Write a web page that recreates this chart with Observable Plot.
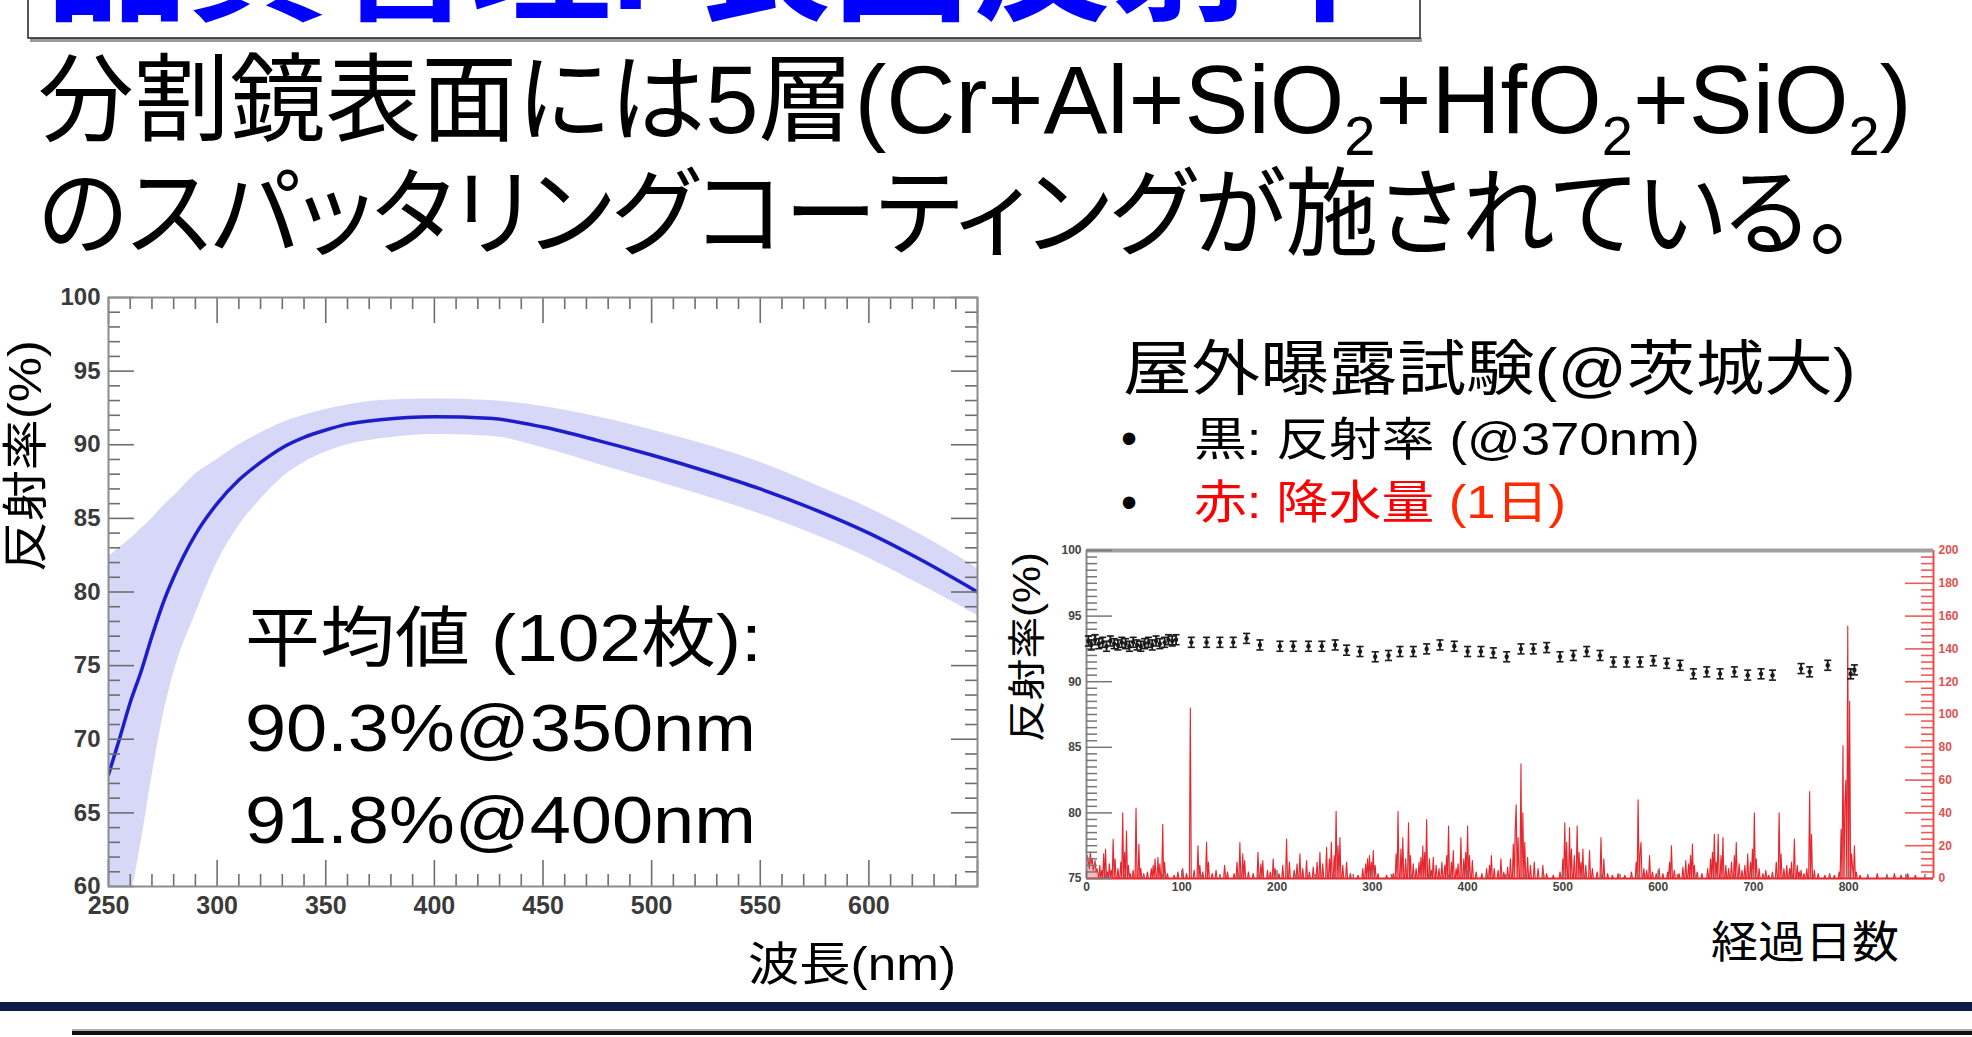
<!DOCTYPE html>
<html><head><meta charset="utf-8">
<script src="https://cdn.jsdelivr.net/npm/d3@7"></script>
<script src="https://cdn.jsdelivr.net/npm/@observablehq/plot@0.6"></script>
<style>
html,body{margin:0;padding:0;background:#fff;overflow:hidden;}
#page{position:relative;width:1972px;height:1037px;overflow:hidden;background:#fff;}
.abs{position:absolute;}
#overlay{position:absolute;left:0;top:0;}
</style></head><body>
<div id="page">
  <div id="left" class="abs" style="left:0;top:270px;width:1000px;height:680px"></div>
  <div id="rain" class="abs" style="left:1040px;top:530px;width:932px;height:390px"></div>
  <div id="refl" class="abs" style="left:1040px;top:530px;width:932px;height:390px"></div>
  <svg id="overlay" width="1972" height="1037"></svg>
</div>
<script>
// ---------- data: left chart (mean reflectance of 102 mirrors) ----------
const wavelength = [250,255,260,265,270,275,280,290,300,310,320,330,340,350,360,375,400,425,450,475,500,525,550,575,600,625,650];
const meanRefl   = [67.6,70.0,72.5,74.6,77.0,79.2,81.0,83.9,86.0,87.6,88.8,89.8,90.5,91.0,91.4,91.7,91.9,91.8,91.2,90.3,89.3,88.2,87.0,85.6,84.0,82.1,80.0];
const bandHigh   = [82.4,83.0,83.6,84.3,85.0,85.8,86.5,88.0,89.0,90.0,90.8,91.5,92.0,92.4,92.7,93.0,93.1,93.0,92.6,91.9,91.0,90.0,88.8,87.3,85.7,83.8,81.6];
const bandLow    = [52.0,55.0,59.0,63.0,67.5,71.5,74.5,78.5,82.0,84.5,86.3,87.8,88.8,89.5,90.0,90.4,90.7,90.6,89.8,88.7,87.6,86.5,85.3,83.9,82.3,80.4,78.4];
const leftXDomain = [250, 650];
const leftYDomain = [60, 100];
const leftXLabels = [250,300,350,400,450,500,550,600];
const leftYLabels = [60,65,70,75,80,85,90,95,100];

// ---------- data: right chart (outdoor exposure) ----------
const reflectance = [[2,93.1],[5,92.8],[9,93.2],[13,92.9],[17,93.0],[21,92.7],[25,93.1],[29,92.9],[33,92.8],[37,93.0],[41,92.9],[45,92.7],[49,93.0],[53,92.8],[57,92.7],[61,92.9],[65,93.0],[69,92.8],[73,93.1],[77,92.9],[82,93.0],[86,93.2],[90,93.1],[94,93.2],[110,93.0],[126,93.0],[140,93.0],[154,93.0],[168,93.3],[182,92.8],[203,92.7],[217,92.7],[233,92.7],[247,92.7],[261,92.8],[273,92.4],[287,92.3],[303,91.9],[317,92.0],[329,92.3],[343,92.3],[357,92.5],[371,92.8],[386,92.7],[400,92.3],[414,92.3],[427,92.2],[441,91.9],[456,92.5],[469,92.5],[483,92.6],[497,91.9],[511,92.0],[525,92.3],[539,92.0],[553,91.5],[567,91.5],[581,91.5],[595,91.6],[609,91.4],[623,91.25],[637,90.6],[651,90.75],[665,90.6],[680,90.75],[694,90.5],[708,90.6],[720,90.5],[750,91.0],[759,90.75],[778,91.25],[802,90.6],[806,90.9]];
const reflErr = 0.38;
const rainfall = [[0,8],[1,14],[2,10],[3,6],[4,16],[5,9],[6,12],[7,5],[8,7],[9,11],[10,4],[11,6],[12,3],[14,8],[16,5],[18,15],[20,18],[22,4],[24,9],[26,5],[28,24],[30,12],[33,6],[36,10],[38,40],[40,16],[42,29],[44,8],[46,3],[49,5],[52,43],[55,21],[57,6],[60,3],[64,4],[68,6],[70,8],[72,12],[75,13],[77,9],[80,33],[82,10],[85,3],[92,2],[96,4],[101,6],[105,3],[109,104],[113,5],[117,20],[119,8],[122,4],[126,22],[128,10],[132,3],[136,5],[140,2],[145,8],[148,4],[155,3],[158,10],[161,22],[164,15],[166,11],[170,4],[175,3],[180,16],[183,9],[185,11],[190,5],[193,4],[196,12],[198,6],[202,3],[206,8],[210,24],[213,10],[218,5],[221,9],[224,15],[227,6],[231,11],[234,4],[238,7],[242,10],[245,16],[248,9],[252,19],[255,12],[257,22],[260,14],[262,41],[264,20],[266,25],[269,8],[273,10],[277,3],[285,2],[290,6],[293,9],[295,12],[297,14],[299,10],[301,17],[303,8],[306,3],[315,2],[322,3],[325,15],[327,41],[330,18],[332,25],[335,12],[338,34],[340,14],[343,9],[346,6],[349,10],[351,13],[353,20],[355,16],[357,36],[360,12],[362,5],[364,13],[367,8],[370,6],[373,10],[376,8],[378,14],[380,32],[383,10],[385,17],[388,6],[390,9],[393,25],[396,12],[398,16],[400,32],[402,14],[405,11],[409,4],[415,3],[420,6],[423,8],[425,14],[428,6],[432,5],[435,12],[438,4],[442,7],[445,12],[448,21],[450,30],[451,45],[453,25],[456,70],[458,40],[460,22],[463,13],[466,8],[470,10],[474,6],[479,8],[483,3],[490,2],[497,4],[500,12],[502,34],[504,22],[507,31],[509,18],[512,14],[515,32],[517,16],[519,10],[521,18],[524,8],[528,17],[531,6],[536,4],[540,25],[543,12],[547,3],[552,2],[558,3],[565,2],[572,4],[577,10],[579,48],[581,15],[582,22],[585,6],[588,5],[591,14],[594,4],[598,3],[601,6],[605,3],[610,4],[612,10],[614,20],[617,5],[622,3],[626,7],[629,11],[632,9],[634,14],[636,21],[638,8],[641,4],[646,3],[652,6],[655,12],[657,16],[659,27],[661,10],[663,27],[666,14],[668,25],[671,8],[674,6],[677,10],[680,14],[682,22],[685,9],[688,5],[691,8],[694,15],[697,10],[699,18],[701,40],[703,12],[706,6],[710,3],[713,5],[716,2],[720,4],[724,10],[727,40],[729,15],[732,6],[735,8],[738,6],[740,10],[743,24],[746,8],[748,4],[750,5],[753,3],[756,6],[759,53],[761,27],[764,5],[768,3],[775,2],[780,3],[785,2],[790,4],[792,30],[794,81],[796,45],[797,60],[799,154],[801,108],[803,15],[804,7],[806,20],[808,4],[812,2],[820,2],[830,3],[840,2],[848,3],[855,2],[862,3],[870,2]];
const rightXDomain = [0, 889];
const reflDomain = [75, 100];
const rainDomain = [0, 200];
const rightXLabels = [0,100,200,300,400,500,600,700,800];
const reflLabels = [75,80,85,90,95,100];
const rainLabels = [0,20,40,60,80,100,120,140,160,180,200];

// ---------- left chart ----------
const spec = wavelength.map((w, i) => ({wl: w, mean: meanRefl[i], low: bandLow[i], high: bandHigh[i]}));
const L = {w: 1000, h: 680, ml: 108, mr: 23, mt: 27, mb: 64};
const lfw = L.w - L.ml - L.mr, lfh = L.h - L.mt - L.mb;
const lxMajor = d3.range(leftXDomain[0], leftXDomain[1] + 1, 50);
const lxMinor = d3.range(leftXDomain[0], leftXDomain[1] + 1, 10).filter(v => v % 50);
const lyMajor = d3.range(leftYDomain[0], leftYDomain[1] + 1, 5);
const lyMinor = d3.range(leftYDomain[0], leftYDomain[1] + 1, 1).filter(v => v % 5);
const tickStyle = {stroke: "#6e6e6e", strokeWidth: 1.6};
const axisFont = "Liberation Sans, Arial, sans-serif";

const leftPlot = Plot.plot({
  width: L.w, height: L.h,
  marginLeft: L.ml, marginRight: L.mr, marginTop: L.mt, marginBottom: L.mb,
  x: {domain: leftXDomain},
  y: {domain: leftYDomain},
  style: {background: "transparent", maxWidth: "none", overflow: "visible", fontFamily: axisFont},
  marks: [
    Plot.areaY(spec, {x: "wl", y1: "low", y2: "high", fill: "#cdcdf6", fillOpacity: 0.8, curve: "monotone-x", clip: true}),
    Plot.lineY(spec, {x: "wl", y: "mean", stroke: "#1d1dc9", strokeWidth: 3.5, curve: "monotone-x", clip: true}),
    Plot.tickY(lyMajor, {y: d => d, insetRight: lfw - 26, ...tickStyle}),
    Plot.tickY(lyMinor, {y: d => d, insetRight: lfw - 12, ...tickStyle}),
    Plot.tickY(lyMajor, {y: d => d, insetLeft: lfw - 26, ...tickStyle}),
    Plot.tickY(lyMinor, {y: d => d, insetLeft: lfw - 12, ...tickStyle}),
    Plot.tickX(lxMajor, {x: d => d, insetTop: lfh - 26, ...tickStyle}),
    Plot.tickX(lxMinor, {x: d => d, insetTop: lfh - 12, ...tickStyle}),
    Plot.tickX(lxMajor, {x: d => d, insetBottom: lfh - 26, ...tickStyle}),
    Plot.tickX(lxMinor, {x: d => d, insetBottom: lfh - 12, ...tickStyle}),
    Plot.frame({stroke: "#8c8c8c", strokeWidth: 2}),
    Plot.axisY({ticks: leftYLabels, tickSize: 0, tickPadding: 8, label: null, fontSize: 24, fontWeight: "bold", fill: "#3a3a3a"}),
    Plot.axisX({ticks: leftXLabels, tickSize: 0, tickPadding: 10, label: null, fontSize: 25, fontWeight: "bold", fill: "#3a3a3a"})
  ]
});
document.getElementById("left").appendChild(leftPlot);

// ---------- right chart: rain layer (own scale, right axis) ----------
const R = {w: 932, h: 390, ml: 46, mr: 39, mt: 20, mb: 42};
const rfw = R.w - R.ml - R.mr, rfh = R.h - R.mt - R.mb;
const rainMap = new Map(rainfall);
const daily = d3.range(0, 881).map(d => ({day: d, mm: rainMap.get(d) ?? 0}));
const rainMajor = rainLabels;
const rainMinor = d3.range(rainDomain[0], rainDomain[1] + 1, 4).filter(v => v % 20);
const redTick = {stroke: "#ee5a5a", strokeWidth: 1.6};

const rainPlot = Plot.plot({
  width: R.w, height: R.h,
  marginLeft: R.ml, marginRight: R.mr, marginTop: R.mt, marginBottom: R.mb,
  x: {domain: rightXDomain, axis: null},
  y: {domain: rainDomain},
  style: {background: "transparent", maxWidth: "none", overflow: "visible", fontFamily: axisFont},
  marks: [
    Plot.areaY(daily, {x: "day", y: "mm", fill: "#f7b0b0", fillOpacity: 0.9}),
    Plot.lineY(daily, {x: "day", y: "mm", stroke: "#e6262e", strokeWidth: 1.1}),
    Plot.tickY(rainMajor, {y: d => d, insetLeft: rfw - 28, ...redTick}),
    Plot.tickY(rainMinor, {y: d => d, insetLeft: rfw - 12, ...redTick}),
    Plot.ruleY([rainDomain[0]], {stroke: "#e8262d", strokeWidth: 2}),
    Plot.ruleX([rightXDomain[1]], {stroke: "#ee4a4a", strokeWidth: 2}),
    Plot.axisY({anchor: "right", ticks: rainLabels, tickSize: 0, tickPadding: 5, label: null, fontSize: 12, fontWeight: "bold", fill: "#e05050"})
  ]
});
document.getElementById("rain").appendChild(rainPlot);

// ---------- right chart: reflectance layer ----------
const reflData = reflectance.map(([d, v]) => ({day: d, v, lo: v - reflErr, hi: v + reflErr}));
const ryMajor = d3.range(reflDomain[0], reflDomain[1] + 0.01, 5);
const ryMinor = d3.range(reflDomain[0], reflDomain[1] + 0.01, 0.5).filter(v => v % 5);
const rxMajor = rightXLabels;
const rxMinor = d3.range(0, 881, 20).filter(v => v % 100);
const grayTick = {stroke: "#777", strokeWidth: 1.5};
const capSymbol = {draw(ctx, size) { const w = Math.sqrt(size); ctx.moveTo(-w, 0); ctx.lineTo(w, 0); }};

const reflPlot = Plot.plot({
  width: R.w, height: R.h,
  marginLeft: R.ml, marginRight: R.mr, marginTop: R.mt, marginBottom: R.mb,
  x: {domain: rightXDomain},
  y: {domain: reflDomain},
  style: {background: "transparent", maxWidth: "none", overflow: "visible", fontFamily: axisFont},
  marks: [
    Plot.ruleY([reflDomain[1]], {stroke: "#a0a0a0", strokeWidth: 4}),
    Plot.ruleX([rightXDomain[0]], {stroke: "#8a8a8a", strokeWidth: 2}),
    Plot.tickY(ryMajor, {y: d => d, insetRight: rfw - 26, ...grayTick}),
    Plot.tickY(ryMinor, {y: d => d, insetRight: rfw - 11, ...grayTick}),
    Plot.tickX(rxMajor, {x: d => d, insetTop: rfh - 8, ...grayTick}),
    Plot.tickX(rxMinor, {x: d => d, insetTop: rfh - 4, ...grayTick}),
    Plot.ruleX(reflData, {x: "day", y1: "lo", y2: "hi", stroke: "#1a1a1a", strokeWidth: 1.8}),
    Plot.dot(reflData, {x: "day", y: "hi", symbol: capSymbol, r: 2, stroke: "#1a1a1a", fill: "none", strokeWidth: 1.6}),
    Plot.dot(reflData, {x: "day", y: "lo", symbol: capSymbol, r: 2, stroke: "#1a1a1a", fill: "none", strokeWidth: 1.6}),
    Plot.dot(reflData, {x: "day", y: "v", r: 2.2, fill: "#1a1a1a"}),
    Plot.axisY({ticks: reflLabels, tickSize: 0, tickPadding: 5, label: null, fontSize: 12, fontWeight: "bold", fill: "#444"}),
    Plot.axisX({ticks: rightXLabels, tickSize: 0, tickPadding: 4, label: null, fontSize: 12, fontWeight: "bold", fill: "#444"})
  ]
});
document.getElementById("refl").appendChild(reflPlot);

// ---------- slide texts ----------
const NS = "http://www.w3.org/2000/svg";
const ov = document.getElementById("overlay");
function el(tag, attrs, parent = ov) {
  const e = document.createElementNS(NS, tag);
  for (const k in attrs) e.setAttribute(k, attrs[k]);
  parent.appendChild(e);
  return e;
}
function txt(str, attrs, parent = ov) { const t = el("text", attrs, parent); t.textContent = str; return t; }
function fit(t, w) {
  const b = t.getBBox();
  const x = +(t.getAttribute("x") || 0);
  const s = w / b.width;
  t.setAttribute("transform", `translate(${x},0) scale(${s},1) translate(${-x},0)`);
}
const JP = "'Liberation Sans', 'Noto Sans CJK JP', sans-serif";

// title box (cut off at top of the page)
el("rect", {x: 30, y: 38, width: 1392, height: 4, fill: "#9a9a9a"});
el("rect", {x: 28, y: -6, width: 1392, height: 44, fill: "#fff", stroke: "#222", "stroke-width": 1.5});
const title = txt("品質管理I 表面反射率", {x: 46, y: 9, "font-size": 140, "font-weight": "bold", fill: "#0000ff", "font-family": JP});
fit(title, 1350);

// two body lines
const line1 = el("text", {x: 38, y: 133, "font-size": 96, fill: "#000", "font-family": JP, style: "font-feature-settings:'palt'"});
const segs = [["分割鏡表面には5層(Cr+Al+SiO", 0], ["2", 1], ["+HfO", 0], ["2", 1], ["+SiO", 0], ["2", 1], [")", 0]];
let sub = false;
for (const [s, isSub] of segs) {
  const ts = el("tspan", {}, line1);
  if (isSub && !sub) { ts.setAttribute("dy", 22); ts.setAttribute("font-size", 56); sub = true; }
  else if (isSub) { ts.setAttribute("font-size", 56); }
  else if (!isSub && sub) { ts.setAttribute("dy", -22); sub = false; }
  ts.textContent = s;
}
fit(line1, 1874);
const line2 = txt("のスパッタリングコーティングが施されている。", {x: 38, y: 247, "font-size": 96, fill: "#000", "font-family": JP, style: "font-feature-settings:'palt'"});
fit(line2, 1817);

// left chart annotation
const a1 = txt("平均値 (102枚):", {x: 245, y: 661, "font-size": 66, fill: "#000", "font-family": JP}); fit(a1, 517);
const a2 = txt("90.3%@350nm", {x: 245, y: 751, "font-size": 66, fill: "#000", "font-family": JP}); fit(a2, 511);
const a3 = txt("91.8%@400nm", {x: 245, y: 843, "font-size": 66, fill: "#000", "font-family": JP}); fit(a3, 511);

// axis titles
const gl = el("g", {transform: "translate(0,456) rotate(-90)"});
const ly = txt("反射率(%)", {x: 0, y: 41, "font-size": 46, "text-anchor": "middle", fill: "#000", "font-family": JP}, gl); fit(ly, 232);
const xl = txt("波長(nm)", {x: 852, y: 980, "font-size": 46, "text-anchor": "middle", fill: "#000", "font-family": JP}); fit(xl, 208);
const gr = el("g", {transform: "translate(0,647) rotate(-90)"});
const ry = txt("反射率(%)", {x: 0, y: 1040, "font-size": 38, "text-anchor": "middle", fill: "#000", "font-family": JP}, gr); fit(ry, 190);
const rx = txt("経過日数", {x: 1805, y: 958, "font-size": 44, "text-anchor": "middle", fill: "#000", "font-family": JP}); fit(rx, 188);

// right chart title and legend
const rt = txt("屋外曝露試験(@茨城大)", {x: 1123, y: 390, "font-size": 60, fill: "#000", "font-family": JP}); fit(rt, 733);
txt("•", {x: 1121, y: 454, "font-size": 46, fill: "#000", "font-family": JP});
const l1 = txt("黒: 反射率 (@370nm)", {x: 1194, y: 455, "font-size": 46, fill: "#000", "font-family": JP}); fit(l1, 506);
txt("•", {x: 1121, y: 518, "font-size": 46, fill: "#000", "font-family": JP});
const l2 = el("text", {x: 1194, y: 518, "font-size": 46, fill: "#ff0000", "font-family": JP});
const l2a = el("tspan", {}, l2); l2a.textContent = "赤: 降水量 ";
const l2b = el("tspan", {fill: "#ff2a00"}, l2); l2b.textContent = "(1日)";
fit(l2, 372);

// bottom rules
el("rect", {x: 0, y: 1002, width: 1972, height: 9, fill: "#0c1c48"});
el("rect", {x: 72, y: 1029, width: 1900, height: 2, fill: "#b0b0b0"});
el("rect", {x: 72, y: 1031, width: 1900, height: 4, fill: "#111"});
</script>
</body></html>
